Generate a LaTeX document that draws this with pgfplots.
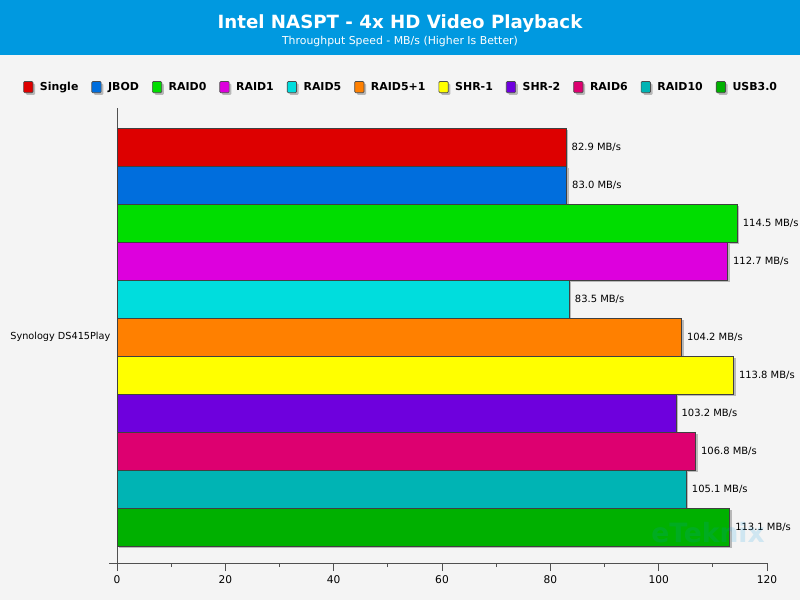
\documentclass[border=0pt]{standalone}
\usepackage{pgfplots}
\pgfplotsset{compat=1.18}
\usepackage{fontspec}
\setmainfont{DejaVu Sans}
\definecolor{bg}{HTML}{F4F4F4}
\definecolor{head}{HTML}{0099E0}
\definecolor{axc}{HTML}{505050}
\definecolor{cSingle}{HTML}{DD0000}
\definecolor{cJBOD}{HTML}{006EDD}
\definecolor{cRAIDzero}{HTML}{00DD00}
\definecolor{cRAIDone}{HTML}{DD00DD}
\definecolor{cRAIDfive}{HTML}{00DDDD}
\definecolor{cRAIDfivep}{HTML}{FF8000}
\definecolor{cSHRone}{HTML}{FFFF00}
\definecolor{cSHRtwo}{HTML}{6E00DD}
\definecolor{cRAIDsix}{HTML}{DD0070}
\definecolor{cRAIDten}{HTML}{00B4B4}
\definecolor{cUSB}{HTML}{00B000}
\begin{document}
\begin{tikzpicture}[x=0.75bp,y=-0.75bp]
\useasboundingbox (0,0) rectangle (800,600);
\fill[bg] (0,0) rectangle (800,600);
\fill[head] (0,0) rectangle (800,55);
\node[white,font=\bfseries\fontsize{13.7}{15}\selectfont] at (400,24) {Intel NASPT - 4x HD Video Playback};
\node[white,font=\fontsize{8.2}{10}\selectfont] at (400,41) {Throughput Speed - MB/s (Higher Is Better)};
\draw[axc, line width=0.75bp] (109,563) -- (117,563);
\begin{axis}[
  at={(87.75bp,-422.25bp)}, anchor=south west,
  scale only axis, width=487.5bp, height=341.25bp,
  xmin=0, xmax=120, ymin=-10.95, ymax=1.03,
  axis x line*=bottom, axis y line*=left,
  axis line style={axc, line width=0.75bp},
  xtick={0,20,...,120}, minor xtick={10,30,...,110},
  tick align=outside,
  major tick length=6bp, minor tick length=3bp,
  every tick/.style={axc, line width=0.75bp},
  ytick={-5}, yticklabels={Synology DS415Play},
  ytick style={draw=none},
  tick label style={font=\fontsize{8}{10}\selectfont},
  yticklabel style={font=\fontsize{7.3}{10}\selectfont, xshift=4.5bp},
  /pgf/number format/assume math mode=true,
  xbar, bar width=1, bar shift=0pt,
  every axis plot/.append style={draw=black!75, line width=0.6bp},
  nodes near coords={\pgfmathprintnumber[fixed,fixed zerofill,precision=1]{\pgfplotspointmeta}~MB/s},
  nodes near coords style={font=\fontsize{7.5}{10}\selectfont, text=black, anchor=west, xshift=0.6bp},
  point meta=x,
  legend columns=11,
  legend style={at={(0.4377,1.046)}, anchor=center, draw=none, fill=none,
    font=\bfseries\fontsize{8.25}{10}\selectfont,
    /tikz/every odd column/.append style={column sep=3bp},
    /tikz/every even column/.append style={column sep=7.8bp}},
  legend image code/.code={\draw[#1,draw=black!70,line width=0.5bp,rounded corners=0.8bp] (0bp,-4.2bp) rectangle (7bp,4.2bp);},
  shbar/.style={fill=#1, preaction={draw=none, fill=black!28, transform canvas={shift={(1.6bp,-1.6bp)}}}},
]
\addplot[shbar=cSingle] coordinates {(82.9,0)};
\addplot[shbar=cJBOD] coordinates {(83.0,-1)};
\addplot[shbar=cRAIDzero] coordinates {(114.5,-2)};
\addplot[shbar=cRAIDone] coordinates {(112.7,-3)};
\addplot[shbar=cRAIDfive] coordinates {(83.5,-4)};
\addplot[shbar=cRAIDfivep] coordinates {(104.2,-5)};
\addplot[shbar=cSHRone] coordinates {(113.8,-6)};
\addplot[shbar=cSHRtwo] coordinates {(103.2,-7)};
\addplot[shbar=cRAIDsix] coordinates {(106.8,-8)};
\addplot[shbar=cRAIDten] coordinates {(105.1,-9)};
\addplot[shbar=cUSB] coordinates {(113.1,-10)};
\legend{Single,JBOD,RAID0,RAID1,RAID5,RAID5+1,SHR-1,SHR-2,RAID6,RAID10,USB3.0}
\end{axis}
\node[font=\bfseries\fontsize{20}{22}\selectfont, text=head, opacity=0.15] at (708,533) {eTeknix};
\end{tikzpicture}
\end{document}
